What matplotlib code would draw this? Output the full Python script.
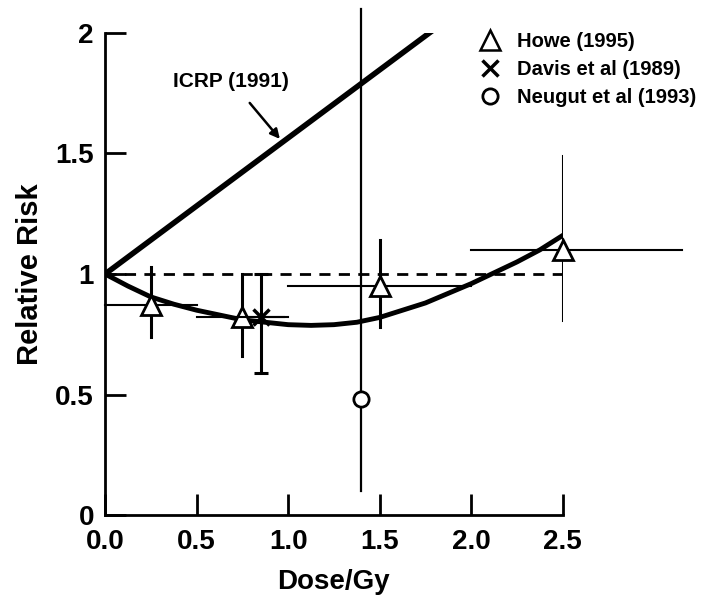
import numpy as np
import matplotlib.pyplot as plt
from matplotlib.lines import Line2D

plt.rcParams['font.family'] = ['Liberation Sans', 'DejaVu Sans']
plt.rcParams['font.weight'] = 'bold'

# Howe (1995)
howe_x = [0.25, 0.75, 1.5, 2.5]
howe_y = [0.87, 0.82, 0.95, 1.10]
howe_xlo = [0.0, 0.5, 1.0, 2.0]
howe_xhi = [0.5, 1.0, 2.0, 3.15]
howe_ylo = [0.74, 0.66, 0.78, 0.81]
howe_yhi = [1.03, 1.00, 1.14, 1.49]

# Davis et al (1989)
davis_x = [0.85]
davis_y = [0.82]
davis_xlo = [0.72]
davis_xhi = [0.98]
davis_ylo = [0.59]
davis_yhi = [1.00]

# Neugut et al (1993)
neugut_x = [1.40]
neugut_y = [0.48]
neugut_ylo = [0.10]
neugut_yhi = [2.10]

# ICRP (1991) line
icrp_x = [0.0, 1.79]
icrp_y = [1.0, 2.01]

# fitted curve
fit_x = [0.0, 0.125, 0.25, 0.375, 0.5, 0.625, 0.75, 0.875, 1.0, 1.125, 1.25, 1.375,
         1.5, 1.625, 1.75, 1.875, 2.0, 2.125, 2.25, 2.375, 2.5]
fit_y = [1.0, 0.95, 0.905, 0.875, 0.85, 0.83, 0.81, 0.80, 0.79, 0.787, 0.79, 0.80,
         0.82, 0.85, 0.88, 0.92, 0.96, 1.005, 1.05, 1.10, 1.16]

fig = plt.figure(figsize=(7.15, 5.97), dpi=100)
ax = fig.add_axes([0.147, 0.137, 0.640, 0.808])

# reference line RR = 1
ax.plot([0, 2.5], [1, 1], 'k--', lw=2, dashes=(4, 3))
ax.plot(icrp_x, icrp_y, 'k-', lw=4, solid_capstyle='round')
ax.plot(fit_x, fit_y, 'k-', lw=3.5)

for i in range(len(howe_x)):
    ax.plot([howe_xlo[i], howe_xhi[i]], [howe_y[i], howe_y[i]], 'k-', lw=1.5, clip_on=False)
    ax.plot([howe_x[i], howe_x[i]], [howe_ylo[i], howe_yhi[i]], 'k-', lw=2.2)
ax.plot(howe_x, howe_y, '^', ms=14, mfc='white', mec='k', mew=2, clip_on=False)

for i in range(len(davis_x)):
    ax.plot([davis_xlo[i], davis_xhi[i]], [davis_y[i], davis_y[i]], 'k-', lw=1.5)
    ax.errorbar(davis_x[i], davis_y[i],
                yerr=[[davis_y[i] - davis_ylo[i]], [davis_yhi[i] - davis_y[i]]],
                fmt='none', ecolor='k', elinewidth=2.2, capsize=5, capthick=2.2)
ax.plot(davis_x, davis_y, 'x', ms=11, mec='k', mew=2.5)

ax.plot([neugut_x[0], neugut_x[0]], [neugut_ylo[0], neugut_yhi[0]], 'k-', lw=1.6, clip_on=False)
ax.plot(neugut_x, neugut_y, 'o', ms=11, mfc='white', mec='k', mew=2)

ax.annotate('ICRP (1991)', xy=(0.955, 1.56), xytext=(0.69, 1.80),
            ha='center', va='center', fontsize=15, fontweight='bold',
            arrowprops=dict(arrowstyle='-|>', color='k', lw=1.8, mutation_scale=14,
                            shrinkA=9, shrinkB=0))

ax.set_xlim(0, 2.5)
ax.set_ylim(0, 2)
ax.set_xticks([0, 0.5, 1.0, 1.5, 2.0, 2.5])
ax.set_xticklabels(['0.0', '0.5', '1.0', '1.5', '2.0', '2.5'])
ax.set_yticks([0, 0.5, 1, 1.5, 2])
ax.set_yticklabels(['0', '0.5', '1', '1.5', '2'])
ax.tick_params(direction='in', length=15, width=2, labelsize=20)
ax.tick_params(axis='x', pad=10)
ax.tick_params(axis='y', pad=8)
for lab in ax.get_xticklabels() + ax.get_yticklabels():
    lab.set_fontweight('bold')
ax.spines['top'].set_visible(False)
ax.spines['right'].set_visible(False)
ax.spines['left'].set_linewidth(2)
ax.spines['bottom'].set_linewidth(2)
ax.set_xlabel('Dose/Gy', fontsize=20, fontweight='bold', labelpad=10)
ax.set_ylabel('Relative Risk', fontsize=21, fontweight='bold', labelpad=8)

handles = [
    Line2D([], [], ls='none', marker='^', ms=14, mfc='white', mec='k', mew=1.8),
    Line2D([], [], ls='none', marker='x', ms=11, mec='k', mew=2.5),
    Line2D([], [], ls='none', marker='o', ms=11, mfc='white', mec='k', mew=2),
]
labels = ['Howe (1995)', 'Davis et al (1989)', 'Neugut et al (1993)']
fig.legend(handles, labels, loc='upper left', bbox_to_anchor=(0.643, 0.977),
           frameon=False, prop={'size': 14.5, 'weight': 'bold'},
           handletextpad=0.75, labelspacing=0.45, handlelength=1.2)

fig.savefig('out.png', dpi=100)
